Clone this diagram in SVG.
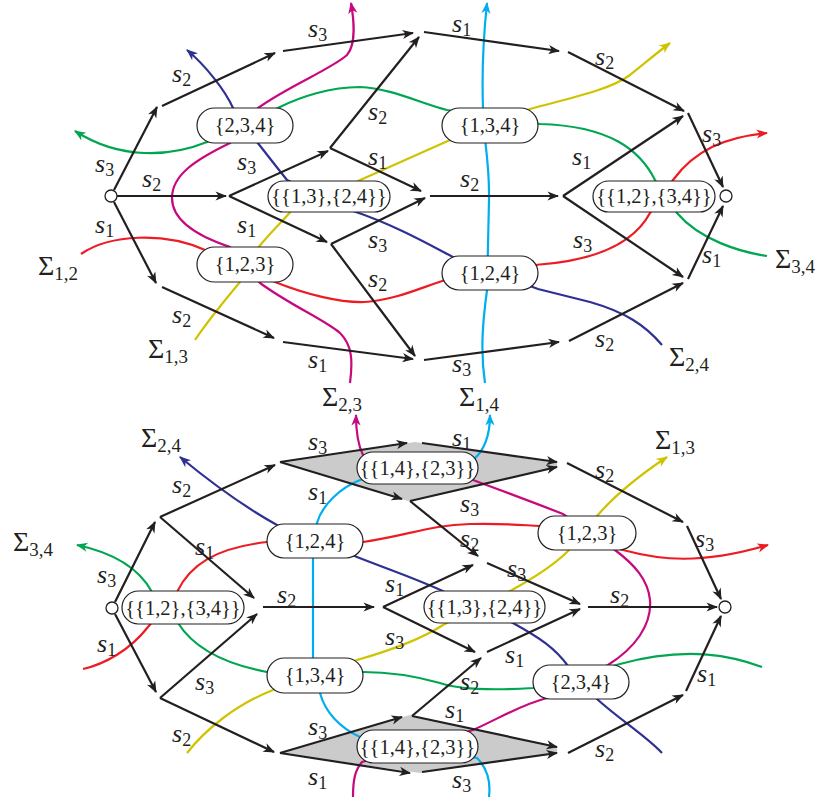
<svg xmlns="http://www.w3.org/2000/svg" width="825" height="803" viewBox="0 0 825 803">
<style>
.e{stroke:#231f20;stroke-width:2.2;fill:none;marker-end:url(#ah)}
.c{fill:none;stroke-width:2.2}
.red{stroke:#ed1c24;marker-end:url(#ar)}
.grn{stroke:#00a651;marker-end:url(#ag)}
.blu{stroke:#2e3192;marker-end:url(#ab)}
.mag{stroke:#c8097e;marker-end:url(#am)}
.yel{stroke:#cfc300;marker-end:url(#ay)}
.cya{stroke:#00aeef;marker-end:url(#ac)}
.n rect{fill:#fff;stroke:#231f20;stroke-width:1.2}
.n text{font-family:"Liberation Serif",serif;font-size:20.5px;text-anchor:middle;fill:#231f20}
.s{font-family:"Liberation Serif",serif;font-style:italic;font-size:26px;fill:#231f20}
.s tspan{font-style:normal;font-size:18px}
.S{font-family:"Liberation Serif",serif;font-size:28px;fill:#231f20}
.S tspan{font-size:19px}
.v{fill:#fff;stroke:#231f20;stroke-width:1.3}
.g{fill:#cbcbcb;stroke:none}
</style>
<defs>
<marker id="ah" viewBox="-12 -5 13 10" refX="-1" refY="0" markerWidth="13" markerHeight="10" markerUnits="userSpaceOnUse" orient="auto"><path d="M0,0 L-11.5,-4.6 L-8.3,0 L-11.5,4.6 Z" fill="#231f20"/></marker>
<marker id="ar" viewBox="-12 -5 13 10" refX="-1" refY="0" markerWidth="13" markerHeight="10" markerUnits="userSpaceOnUse" orient="auto"><path d="M0,0 L-11.5,-4.6 L-8.3,0 L-11.5,4.6 Z" fill="#ed1c24"/></marker>
<marker id="ag" viewBox="-12 -5 13 10" refX="-1" refY="0" markerWidth="13" markerHeight="10" markerUnits="userSpaceOnUse" orient="auto"><path d="M0,0 L-11.5,-4.6 L-8.3,0 L-11.5,4.6 Z" fill="#00a651"/></marker>
<marker id="ab" viewBox="-12 -5 13 10" refX="-1" refY="0" markerWidth="13" markerHeight="10" markerUnits="userSpaceOnUse" orient="auto"><path d="M0,0 L-11.5,-4.6 L-8.3,0 L-11.5,4.6 Z" fill="#2e3192"/></marker>
<marker id="am" viewBox="-12 -5 13 10" refX="-1" refY="0" markerWidth="13" markerHeight="10" markerUnits="userSpaceOnUse" orient="auto"><path d="M0,0 L-11.5,-4.6 L-8.3,0 L-11.5,4.6 Z" fill="#c8097e"/></marker>
<marker id="ay" viewBox="-12 -5 13 10" refX="-1" refY="0" markerWidth="13" markerHeight="10" markerUnits="userSpaceOnUse" orient="auto"><path d="M0,0 L-11.5,-4.6 L-8.3,0 L-11.5,4.6 Z" fill="#cfc300"/></marker>
<marker id="ac" viewBox="-12 -5 13 10" refX="-1" refY="0" markerWidth="13" markerHeight="10" markerUnits="userSpaceOnUse" orient="auto"><path d="M0,0 L-11.5,-4.6 L-8.3,0 L-11.5,4.6 Z" fill="#00aeef"/></marker>
</defs>

<g id="shading">
<polygon class="g" points="280,462 415,442 557,463 557,467 408,501"/>
<polygon class="g" points="280,753 410,715 557,747 557,753 420,773"/>
</g>

<g id="connectors">
<path class="c red" d="M81,254 C110,234 165,232 205,250 L275,282 C305,294 340,303 365,302 C395,300 420,288 445,280 L535,265 C580,262 630,250 650,213 L673,180 C695,150 725,137 767,133"/>
<path class="c yel" d="M195,340 C205,325 225,300 240,282 L258,248 C268,235 282,222 292,210 L358,181 L450,140 L530,109 C570,98 610,90 630,75 C645,63 658,52 670,43"/>
<path class="c grn" d="M767,256 C740,252 700,240 677,213 L655,180 C640,150 610,126 540,124 L447,110 C420,103 390,88 360,87 C330,87 300,97 280,107 L207,142 C170,157 120,160 75,131"/>
<path class="c blu" d="M662,345 C645,325 625,312 590,302 L538,289 L453,257 C430,245 395,225 353,211 L287,180 C275,165 265,152 257,142 L233,108 C225,90 205,65 187,50"/>
<path class="c mag" d="M350,383 C353,360 352,345 340,333 C325,320 290,305 260,283 L230,247 C200,237 172,222 172,198 C172,175 195,160 230,143 L258,108 C290,85 330,70 347,55 C356,45 354,20 351,3"/>
<path class="c cya" d="M485,383 C480,350 483,320 487,290 L489,200 C490,160 482,130 483,108 C482,80 482,50 487,3"/>
<path class="c blu" d="M662,753 C645,735 620,720 597,699 L568,666 C555,648 540,638 513,623 L447,593 C420,580 390,570 357,557 L277,525 C250,510 220,490 180,457"/>
<path class="c grn" d="M762,667 C735,657 690,645 620,664 L533,688 C500,690 460,690 440,683 C415,676 390,672 363,672 L267,672 C230,665 195,650 178,623 L152,592 C140,570 115,553 77,545"/>
<path class="c red" d="M83,669 C105,664 130,650 148,627 L177,592 C190,565 215,548 267,542 L363,542 C410,535 430,525 470,524 C500,523 520,525 540,526 L623,550 C660,560 700,565 768,545"/>
<path class="c yel" d="M187,753 C205,730 235,705 273,690 L357,660 C385,652 420,640 443,625 L512,590 C530,580 555,565 570,549 L597,516 C615,495 640,475 667,457"/>
<path class="c mag" d="M353,797 C353,780 355,770 362,762 L473,730 C500,718 520,705 547,698 L608,665 C635,648 652,625 650,600 C648,580 635,565 615,550 L563,514 C540,505 500,490 473,480 L363,455 C358,445 356,430 356,415"/>
<path class="c cya" d="M489,797 C491,780 487,768 477,758 L360,737 C340,728 325,712 320,693 L313,658 L313,557 L317,523 C322,505 340,488 360,480 L473,460 C485,450 490,435 490,415"/>

<line class="e" x1="114" y1="190" x2="157" y2="107"/>
<line class="e" x1="162" y1="106" x2="275" y2="53"/>
<line class="e" x1="283" y1="51" x2="413" y2="33"/>
<line class="e" x1="330" y1="148" x2="419" y2="37"/>
<line class="e" x1="424" y1="32" x2="559" y2="51"/>
<line class="e" x1="568" y1="52" x2="684" y2="111"/>
<line class="e" x1="688" y1="113" x2="723" y2="187"/>
<line class="e" x1="117" y1="196" x2="226" y2="196"/>
<line class="e" x1="229" y1="196" x2="328" y2="151"/>
<line class="e" x1="229" y1="196" x2="327" y2="242"/>
<line class="e" x1="330" y1="148" x2="421" y2="191"/>
<line class="e" x1="331" y1="244" x2="425" y2="198"/>
<line class="e" x1="430" y1="196" x2="558" y2="196"/>
<line class="e" x1="331" y1="244" x2="415" y2="356"/>
<line class="e" x1="114" y1="202" x2="156" y2="283"/>
<line class="e" x1="162" y1="287" x2="274" y2="338"/>
<line class="e" x1="283" y1="342" x2="413" y2="359"/>
<line class="e" x1="424" y1="360" x2="559" y2="342"/>
<line class="e" x1="563" y1="196" x2="683" y2="116"/>
<line class="e" x1="563" y1="196" x2="683" y2="277"/>
<line class="e" x1="569" y1="341" x2="683" y2="283"/>
<line class="e" x1="688" y1="279" x2="723" y2="206"/>
<line class="e" x1="115" y1="602" x2="155" y2="522"/>
<line class="e" x1="160" y1="517" x2="275" y2="465"/>
<line class="e" x1="160" y1="517" x2="254" y2="598"/>
<line class="e" x1="115" y1="614" x2="156" y2="692"/>
<line class="e" x1="160" y1="698" x2="257" y2="614"/>
<line class="e" x1="160" y1="698" x2="274" y2="752"/>
<line class="e" x1="263" y1="607" x2="374" y2="607"/>
<line class="e" x1="383" y1="607" x2="473" y2="565"/>
<line class="e" x1="383" y1="607" x2="475" y2="652"/>
<line class="e" x1="280" y1="462" x2="407" y2="443"/>
<line class="e" x1="422" y1="443" x2="557" y2="462"/>
<line class="e" x1="280" y1="462" x2="402" y2="499"/>
<line class="e" x1="410" y1="501" x2="557" y2="467"/>
<line class="e" x1="410" y1="501" x2="478" y2="556"/>
<line class="e" x1="487" y1="563" x2="580" y2="604"/>
<line class="e" x1="487" y1="652" x2="580" y2="609"/>
<line class="e" x1="588" y1="607" x2="717" y2="607"/>
<line class="e" x1="567" y1="463" x2="683" y2="522"/>
<line class="e" x1="687" y1="526" x2="721" y2="599"/>
<line class="e" x1="280" y1="753" x2="402" y2="717"/>
<line class="e" x1="412" y1="716" x2="557" y2="747"/>
<line class="e" x1="280" y1="753" x2="410" y2="773"/>
<line class="e" x1="422" y1="772" x2="557" y2="753"/>
<line class="e" x1="412" y1="716" x2="481" y2="658"/>
<line class="e" x1="568" y1="753" x2="683" y2="695"/>
<line class="e" x1="686" y1="691" x2="721" y2="616"/>
</g>

<g id="t_start"><circle class="v" cx="111" cy="196" r="6"/></g>
<g id="t_end"><circle class="v" cx="726" cy="196" r="6"/></g>
<g id="t_234" class="n"><rect x="197" y="108" width="96" height="35" rx="17.5"/><text x="245" y="132">{2,3,4}</text></g>
<g id="t_13_24" class="n"><rect x="268" y="181" width="122" height="31" rx="15.5"/><text x="329" y="203">{{1,3},{2,4}}</text></g>
<g id="t_134" class="n"><rect x="442" y="108" width="96" height="35" rx="17.5"/><text x="490" y="132">{1,3,4}</text></g>
<g id="t_123" class="n"><rect x="197" y="247" width="96" height="35" rx="17.5"/><text x="245" y="271">{1,2,3}</text></g>
<g id="t_124" class="n"><rect x="442" y="256" width="96" height="34" rx="17"/><text x="490" y="280">{1,2,4}</text></g>
<g id="t_12_34" class="n"><rect x="593" y="181" width="122" height="31" rx="15.5"/><text x="654" y="203">{{1,2},{3,4}}</text></g>

<g id="b_start"><circle class="v" cx="112" cy="608" r="6"/></g>
<g id="b_end"><circle class="v" cx="725" cy="607" r="6"/></g>
<g id="b_12_34" class="n"><rect x="122" y="591" width="122" height="33" rx="16.5"/><text x="183" y="615">{{1,2},{3,4}}</text></g>
<g id="b_124" class="n"><rect x="267" y="524" width="96" height="34" rx="17"/><text x="315" y="548">{1,2,4}</text></g>
<g id="b_14_23_top" class="n"><rect x="357" y="452" width="121" height="32" rx="16"/><text x="417.5" y="475">{{1,4},{2,3}}</text></g>
<g id="b_123" class="n"><rect x="538" y="516" width="98" height="34" rx="17"/><text x="587" y="540">{1,2,3}</text></g>
<g id="b_13_24" class="n"><rect x="424" y="591" width="121" height="32" rx="16"/><text x="484.5" y="614">{{1,3},{2,4}}</text></g>
<g id="b_134" class="n"><rect x="267" y="658" width="96" height="35" rx="17.5"/><text x="315" y="682">{1,3,4}</text></g>
<g id="b_234" class="n"><rect x="533" y="665" width="96" height="34" rx="17"/><text x="581" y="689">{2,3,4}</text></g>
<g id="b_14_23_bot" class="n"><rect x="357" y="730" width="121" height="33" rx="16.5"/><text x="417.5" y="754">{{1,4},{2,3}}</text></g>

<g id="edge_labels">
<text class="s" x="172" y="82">s<tspan dy="4">2</tspan></text>
<text class="s" x="95" y="172">s<tspan dy="4">3</tspan></text>
<text class="s" x="142" y="187">s<tspan dy="4">2</tspan></text>
<text class="s" x="237" y="170">s<tspan dy="4">3</tspan></text>
<text class="s" x="308" y="37">s<tspan dy="4">3</tspan></text>
<text class="s" x="452" y="32">s<tspan dy="4">1</tspan></text>
<text class="s" x="368" y="120">s<tspan dy="4">2</tspan></text>
<text class="s" x="368" y="165">s<tspan dy="4">1</tspan></text>
<text class="s" x="460" y="187">s<tspan dy="4">2</tspan></text>
<text class="s" x="595" y="65">s<tspan dy="4">2</tspan></text>
<text class="s" x="702" y="142">s<tspan dy="4">3</tspan></text>
<text class="s" x="572" y="165">s<tspan dy="4">1</tspan></text>
<text class="s" x="95" y="233">s<tspan dy="4">1</tspan></text>
<text class="s" x="237" y="233">s<tspan dy="4">1</tspan></text>
<text class="s" x="172" y="323">s<tspan dy="4">2</tspan></text>
<text class="s" x="308" y="368">s<tspan dy="4">1</tspan></text>
<text class="s" x="368" y="248">s<tspan dy="4">3</tspan></text>
<text class="s" x="368" y="287">s<tspan dy="4">2</tspan></text>
<text class="s" x="452" y="372">s<tspan dy="4">3</tspan></text>
<text class="s" x="573" y="248">s<tspan dy="4">3</tspan></text>
<text class="s" x="702" y="263">s<tspan dy="4">1</tspan></text>
<text class="s" x="595" y="347">s<tspan dy="4">2</tspan></text>
<text class="s" x="172" y="493">s<tspan dy="4">2</tspan></text>
<text class="s" x="97" y="583">s<tspan dy="4">3</tspan></text>
<text class="s" x="195" y="555">s<tspan dy="4">1</tspan></text>
<text class="s" x="308" y="450">s<tspan dy="4">3</tspan></text>
<text class="s" x="452" y="446">s<tspan dy="4">1</tspan></text>
<text class="s" x="308" y="500">s<tspan dy="4">1</tspan></text>
<text class="s" x="460" y="512">s<tspan dy="4">3</tspan></text>
<text class="s" x="460" y="547">s<tspan dy="4">2</tspan></text>
<text class="s" x="507" y="577">s<tspan dy="4">3</tspan></text>
<text class="s" x="385" y="592">s<tspan dy="4">1</tspan></text>
<text class="s" x="277" y="603">s<tspan dy="4">2</tspan></text>
<text class="s" x="595" y="478">s<tspan dy="4">2</tspan></text>
<text class="s" x="695" y="547">s<tspan dy="4">3</tspan></text>
<text class="s" x="610" y="603">s<tspan dy="4">2</tspan></text>
<text class="s" x="97" y="652">s<tspan dy="4">1</tspan></text>
<text class="s" x="195" y="690">s<tspan dy="4">3</tspan></text>
<text class="s" x="172" y="742">s<tspan dy="4">2</tspan></text>
<text class="s" x="385" y="645">s<tspan dy="4">3</tspan></text>
<text class="s" x="505" y="663">s<tspan dy="4">1</tspan></text>
<text class="s" x="460" y="690">s<tspan dy="4">2</tspan></text>
<text class="s" x="308" y="735">s<tspan dy="4">3</tspan></text>
<text class="s" x="445" y="718">s<tspan dy="4">1</tspan></text>
<text class="s" x="308" y="785">s<tspan dy="4">1</tspan></text>
<text class="s" x="452" y="788">s<tspan dy="4">3</tspan></text>
<text class="s" x="595" y="757">s<tspan dy="4">2</tspan></text>
<text class="s" x="697" y="682">s<tspan dy="4">1</tspan></text>
</g>

<g id="sigma_labels">
<text class="S" x="38" y="275">Σ<tspan dy="5">1,2</tspan></text>
<text class="S" x="148" y="358">Σ<tspan dy="5">1,3</tspan></text>
<text class="S" x="322" y="406">Σ<tspan dy="5">2,3</tspan></text>
<text class="S" x="459" y="406">Σ<tspan dy="5">1,4</tspan></text>
<text class="S" x="669" y="366">Σ<tspan dy="5">2,4</tspan></text>
<text class="S" x="775" y="268">Σ<tspan dy="5">3,4</tspan></text>
<text class="S" x="141" y="447">Σ<tspan dy="5">2,4</tspan></text>
<text class="S" x="13" y="551">Σ<tspan dy="5">3,4</tspan></text>
<text class="S" x="655" y="449">Σ<tspan dy="5">1,3</tspan></text>
</g>
</svg>
